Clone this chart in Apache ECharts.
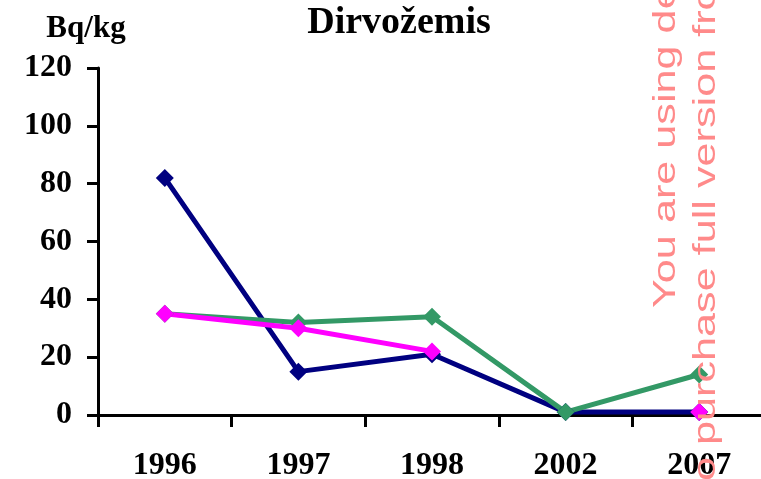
<!DOCTYPE html>
<html>
<head>
<meta charset="utf-8">
<script src="https://cdn.jsdelivr.net/npm/echarts@6/dist/echarts.min.js"></script>
<style>html,body{margin:0;padding:0;background:#fff}#c{width:761px;height:479px}</style>
</head>
<body>
<div id="c"></div>
<script>
var categories = ['1996', '1997', '1998', '2002', '2007'];
var seriesNavy = [82, 15, 21, 1, 1];
var seriesGreen = [35, 32, 34, 1, 14];
var seriesMagenta = [35, 30, 22, null, 1];
var yTicks = [0, 20, 40, 60, 80, 100, 120];

var serif = '"Liberation Serif", "Times New Roman", serif';
var sans = '"Liberation Sans", Arial, sans-serif';
var chart = echarts.init(document.getElementById('c'), null, {renderer: 'canvas'});

function mk(name, data, color) {
  return {
    name: name, type: 'line', data: data,
    symbol: 'diamond', symbolSize: 18,
    connectNulls: false,
    lineStyle: {color: color, width: 5},
    itemStyle: {color: color},
    animation: false
  };
}

chart.setOption({
  backgroundColor: '#fff',
  animation: false,
  grid: {left: 98, right: -5, top: 68, bottom: 64, containLabel: false, outerBoundsMode: 'none'},
  xAxis: {
    type: 'category', data: categories, boundaryGap: true,
    axisLine: {lineStyle: {color: '#000', width: 3}},
    axisTick: {show: true, length: 12, lineStyle: {color: '#000', width: 3}},
    axisLabel: {color: '#000', fontFamily: serif, fontWeight: 'bold', fontSize: 32, margin: 35}
  },
  yAxis: {
    type: 'value', min: yTicks[0], max: yTicks[yTicks.length - 1], interval: 20,
    splitLine: {show: false},
    axisLine: {show: true, lineStyle: {color: '#000', width: 3}},
    axisTick: {show: true, length: 11, lineStyle: {color: '#000', width: 3}},
    axisLabel: {color: '#000', fontFamily: serif, fontWeight: 'bold', fontSize: 32, margin: 26}
  },
  series: [
    mk('Navy', seriesNavy, '#000080'),
    mk('Green', seriesGreen, '#339966'),
    mk('Magenta', seriesMagenta, '#ff00ff')
  ],
  graphic: [
    {type: 'text', x: 399, y: 42, style: {text: 'Dirvožemis', fill: '#000', font: 'bold 38px ' + serif, textAlign: 'center', verticalAlign: 'bottom'}},
    {type: 'text', x: 86, y: 44, style: {text: 'Bq/kg', fill: '#000', font: 'bold 31px ' + serif, textAlign: 'center', verticalAlign: 'bottom'}},
    {type: 'text', x: 666, y: 308, rotation: Math.PI / 2, scaleX: 1.35, z: 100, style: {text: 'You are using demo version', fill: '#ff8a8a', font: '32px ' + sans, textAlign: 'left', verticalAlign: 'middle'}},
    {type: 'text', x: 706, y: 493, rotation: Math.PI / 2, scaleX: 1.35, z: 100, style: {text: 'to purchase full version from', fill: '#ff8a8a', font: '32px ' + sans, textAlign: 'left', verticalAlign: 'middle'}}
  ]
});
</script>
</body>
</html>
